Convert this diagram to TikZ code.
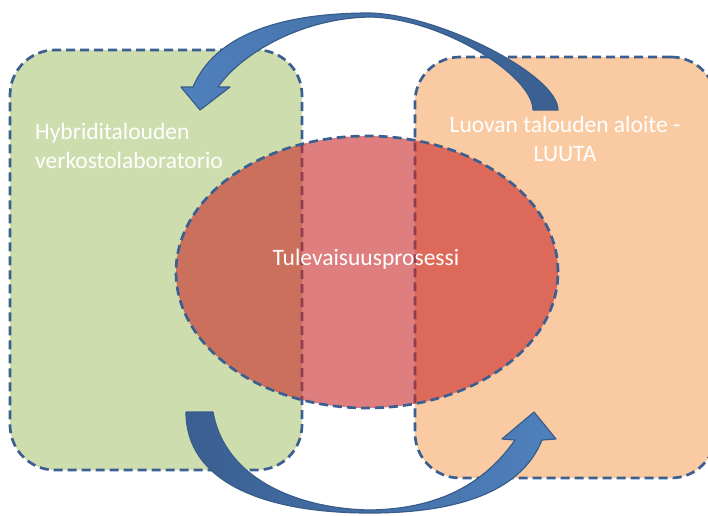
\documentclass[tikz,border=0pt]{standalone}
\usepackage{fontspec}
\setmainfont{Carlito}
\usetikzlibrary{shapes.geometric}
\definecolor{boxgreen}{RGB}{206,221,173}
\definecolor{boxorange}{RGB}{250,203,163}
\definecolor{ellred}{RGB}{200,40,40}
\definecolor{dashblue}{RGB}{59,95,145}
\definecolor{arrlight}{RGB}{79,129,189}
\definecolor{arrdark}{RGB}{58,95,145}
\definecolor{arredge}{RGB}{56,93,138}
\tikzset{
  dashedge/.style={draw=dashblue, line width=2.7pt, dash pattern=on 9pt off 5pt},
  roundbox/.style={dashedge, rectangle, rounded corners=45pt, inner sep=0pt},
  bigarrow/.style={draw=arredge, line width=1.2pt, line join=round},
  lbl/.style={text=white, inner sep=0pt, font=\fontsize{23.5}{29}\selectfont},
}
\begin{document}
\begin{tikzpicture}[x=1pt,y=-1pt]
\useasboundingbox (0,0) rectangle (708,515);
\clip (0,0) rectangle (708,515);
% boxes
\node[roundbox, fill=boxgreen, minimum width=292pt, minimum height=420pt] (hyb) at (156,260) {};
\node[roundbox, fill=boxorange, minimum width=301pt, minimum height=421pt] (luu) at (565.5,267.5) {};
% ellipse
\node[ellipse, dashedge, fill=ellred, fill opacity=0.6, draw opacity=1, minimum width=382pt, minimum height=272pt, inner sep=0pt] (tul) at (367,272) {};
% top arrow (from right box to left box)
\path[bigarrow, left color=arrlight, right color=arrdark]
  (558,110) .. controls (558,75) and (440,15) .. (370,13)
  .. controls (280,13) and (215,35) .. (193,87)
  -- (181,87) -- (200,110) -- (230,87) -- (218,87)
  .. controls (240,55) and (300,18) .. (370,17)
  .. controls (440,18) and (533,75) .. (533,110) -- cycle;
% bottom arrow (from left box to right box)
\path[bigarrow, left color=arrdark, right color=arrlight]
  (186,412) .. controls (186,480) and (260,513) .. (370,513)
  .. controls (450,513) and (520,495) .. (542,440)
  -- (556,439) -- (534,412) -- (502,439) -- (515,440)
  .. controls (480,490) and (430,509) .. (370,510)
  .. controls (300,509) and (225,480) .. (213,412) -- cycle;
% texts
\node[lbl, anchor=base west] (hyb1) at (35,139) {Hybriditalouden};
\node[lbl, anchor=base west] (hyb2) at (35,168) {verkostolaboratorio};
\node[lbl, anchor=base] (luu1) at (565,132) {Luovan talouden aloite -};
\node[lbl, anchor=base] (luu2) at (565,161) {LUUTA};
\node[lbl, anchor=base] (tul1) at (366,265) {Tulevaisuusprosessi};
\end{tikzpicture}
\end{document}
